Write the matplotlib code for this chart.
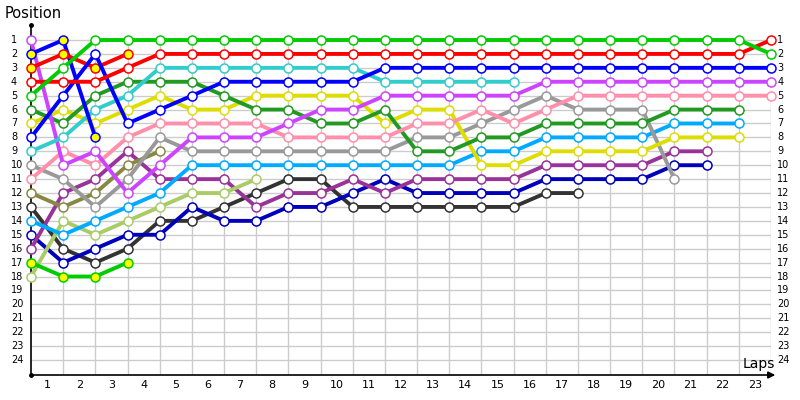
import matplotlib
matplotlib.use('Agg')
import matplotlib.pyplot as plt

# positions per driver, index 0 = grid, then after each lap
green = [5, 3] + [1] * 21 + [2]
red = [4, 4, 4, 3] + [2] * 19 + [1]
blue = [8, 5, 2, 7, 6, 5, 4, 4, 4, 4, 4] + [3] * 13
violet = [1, 10, 9, 12, 10, 8, 8, 8, 7, 6, 6, 5, 5, 5, 5, 5] + [4] * 8
pink = [11, 9, 10, 8, 7, 7, 7, 7, 8, 8, 8, 8, 7, 7, 6, 7, 6] + [5] * 7
gray = [10, 11, 13, 11, 8, 9, 9, 9, 9, 9, 9, 9, 8, 8, 7, 6, 5, 6, 6, 6, 11]
dgreen = [6, 7, 5, 4, 4, 4, 5, 6, 6, 7, 7, 6, 9, 9, 8, 8, 7, 7, 7, 7, 6, 6, 6]
yellow = [7, 6, 7, 6, 5, 6, 6, 5, 5, 5, 5, 7, 6, 6, 10, 10, 9, 9, 9, 9, 8, 8, 8]
cyan = [9, 8, 6, 5, 3, 3, 3, 3, 3, 3, 3, 4, 4, 4, 4, 4]
lblue = [14, 15, 14, 13, 12, 10, 10, 10, 10, 10, 10, 10, 10, 10, 9, 9, 8, 8, 8, 8, 7, 7, 7]
purple = [16, 12, 11, 9, 11, 11, 11, 13, 12, 12, 11, 12, 11, 11, 11, 11, 10, 10, 10, 10, 9, 9]
dblue = [15, 17, 16, 15, 15, 13, 14, 14, 13, 13, 12, 11, 12, 12, 12, 12, 11, 11, 11, 11, 10, 10]
dgray = [13, 16, 17, 16, 14, 14, 13, 12, 11, 11, 13, 13, 13, 13, 13, 13, 12, 12]
olive = [12, 13, 12, 10, 9]
lgreen = [18, 14, 15, 14, 13, 12, 12, 11]
blue_out = [2, 1, 8]
red_out = [3, 2, 3, 2]
green_out = [17, 18, 18, 17]

drivers = [
    (dgray, '#333333', 'white'),
    (dblue, '#0000bb', 'white'),
    (purple, '#993399', 'white'),
    (lgreen, '#aacc66', 'white'),
    (olive, '#888844', 'white'),
    (lblue, '#00aaff', 'white'),
    (gray, '#999999', 'white'),
    (yellow, '#dddd00', 'white'),
    (dgreen, '#229922', 'white'),
    (pink, '#ff8faa', 'white'),
    (violet, '#cc44ff', 'white'),
    (cyan, '#33cccc', 'white'),
    (green_out, '#00cc00', '#ffff00'),
    (blue_out, '#0000ff', '#ffff00'),
    (red_out, '#ff0000', '#ffff00'),
    (blue, '#0000ff', 'white'),
    (red, '#ff0000', 'white'),
    (green, '#00cc00', 'white'),
]

laps = 23
n_pos = 24
ybot = 25.08
ytop = -0.08

fig = plt.figure(figsize=(8, 4), dpi=100)
ax = fig.add_axes([31 / 800, 25 / 400, 740 / 800, 350 / 400])
ax.set_xlim(0, laps)
ax.set_ylim(ybot, ytop)
ax.axis('off')

# grid
for p in range(1, n_pos + 1):
    ax.plot([0, laps], [p, p], color='#cccccc', lw=1, zorder=1)
for k in range(1, laps + 1):
    ax.plot([k, k], [1, ybot], color='#cccccc', lw=1, zorder=1)

# axes lines
ax.plot([0, 0], [ytop, ybot], color='black', lw=1.2, zorder=2, clip_on=False)
ax.plot([0, 0], [ytop, ybot], 'o', color='black', ms=2.5, zorder=2, clip_on=False)
ax.annotate('', xy=(23.22, ybot), xytext=(0, ybot),
            arrowprops=dict(arrowstyle='-|>', color='black', lw=1.2, mutation_scale=10),
            annotation_clip=False)

for pos, col, fill in drivers:
    ax.plot(range(len(pos)), pos, '-o', color=col, lw=2.8, ms=6.5,
            mfc=fill, mec=col, mew=1.1, zorder=3, clip_on=False)

# labels
for p in range(1, n_pos + 1):
    ax.text(-0.62, p, str(p), ha='left', va='center', fontsize=7)
    ax.text(23.19, p, str(p), ha='left', va='center', fontsize=7)
for k in range(1, laps + 1):
    ax.text(k - 0.5, 25.8, str(k), ha='center', va='center', fontsize=8)

fig.text(5 / 800, 1 - 14 / 400, 'Position', ha='left', va='center', fontsize=10.5)
fig.text(743 / 800, 1 - 364 / 400, 'Laps', ha='left', va='center', fontsize=10)

fig.savefig('out.png', dpi=100)
